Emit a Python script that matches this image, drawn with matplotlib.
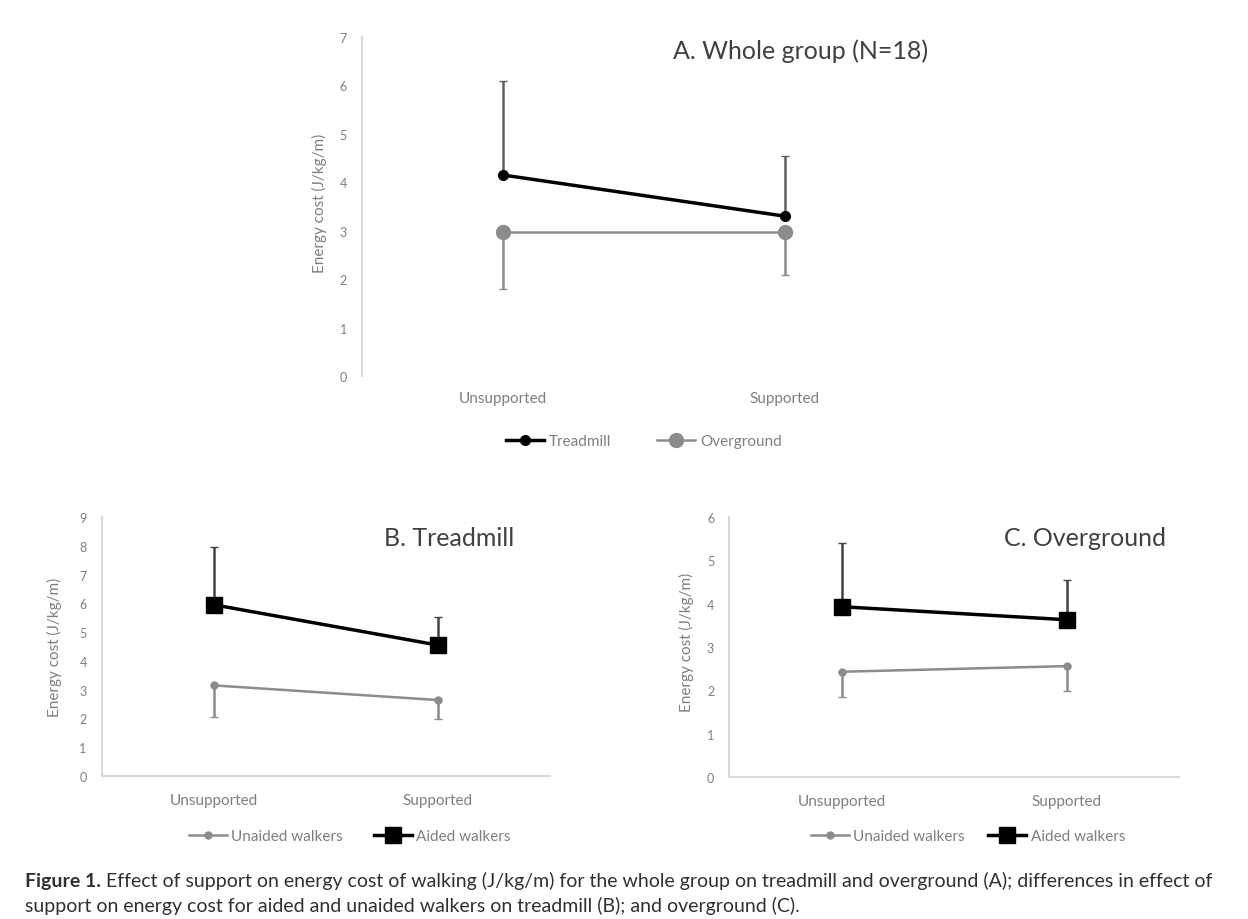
import numpy as np
import matplotlib
matplotlib.use("Agg")
import matplotlib.pyplot as plt

plt.rcParams['font.family'] = ['Lato', 'DejaVu Sans']

categories = ['Unsupported', 'Supported']

# A. whole group
a_treadmill = [4.15, 3.3]
a_treadmill_err = [1.94, 1.25]
a_overground = [2.97, 2.97]
a_overground_err = [1.17, 0.88]

# B. treadmill
b_unaided = [3.15, 2.64]
b_unaided_err = [1.1, 0.66]
b_aided = [5.95, 4.55]
b_aided_err = [2.0, 0.97]

# C. overground
c_unaided = [2.43, 2.56]
c_unaided_err = [0.58, 0.57]
c_aided = [3.93, 3.63]
c_aided_err = [1.47, 0.92]

TXT = '#7f7f7f'
SPINE = '#d9d9d9'
GRAY = '#8c8c8c'

fig = plt.figure(figsize=(12.48, 9.2), dpi=100)
x = np.arange(len(categories))


def series(ax, vals, err, upper, color, lw, marker, ms, ecolor, label, z):
    yerr = [[0, 0], err] if upper else [err, [0, 0]]
    ax.errorbar(x, vals, yerr=yerr, fmt='none', ecolor=ecolor, elinewidth=1.8,
                capsize=3, zorder=z)
    ax.plot(x, vals, color=color, lw=lw, marker=marker, ms=ms, label=label, zorder=z)


def style(ax, ymax, title, tx, ty, ylab_xy, cat_pad):
    ax.set_xlim(-0.5, 1.5)
    ax.set_ylim(0, ymax)
    ax.set_yticks(range(0, ymax + 1))
    ax.set_xticks(x)
    ax.set_xticklabels(categories)
    ax.tick_params(length=0, colors=TXT, labelsize=9)
    ax.tick_params(axis='x', labelsize=11, pad=cat_pad)
    ax.tick_params(axis='y', pad=11)
    for s in ['top', 'right']:
        ax.spines[s].set_visible(False)
    for s in ['left', 'bottom']:
        ax.spines[s].set_color(SPINE)
        ax.spines[s].set_linewidth(1.5)
    ax.set_ylabel('Energy cost (J/kg/m)', color=TXT, fontsize=11)
    ax.yaxis.set_label_coords(*ylab_xy)
    ax.text(tx, ty, title, transform=ax.transAxes, fontsize=18,
            color='#404040', ha='center', va='center')


def legend(ax, handles, labels, y, cx, spacing):
    ax.legend(handles, labels, loc='center', bbox_to_anchor=(cx, y), ncol=2,
              frameon=False, fontsize=11, labelcolor=TXT, handlelength=2.5,
              handletextpad=0.3, columnspacing=spacing)


# ---- A
axA = fig.add_axes([0.2901, 0.5902, 0.4519, 0.3685])
series(axA, a_overground, a_overground_err, False, GRAY, 1.8, 'o', 10, GRAY, 'Overground', 2)
series(axA, a_treadmill, a_treadmill_err, True, 'black', 2.5, 'o', 7, '#606060', 'Treadmill', 3)
style(axA, 7, 'A. Whole group (N=18)', 0.777, 0.96, (-0.062, 0.513), 11)
axA.spines['bottom'].set_visible(False)
h, l = axA.get_legend_handles_labels()
legend(axA, h[::-1], l[::-1], -0.192, 0.5, 3)

# ---- B
axB = fig.add_axes([0.0817, 0.1554, 0.359, 0.2815])
series(axB, b_unaided, b_unaided_err, False, GRAY, 1.8, 'o', 5, GRAY, 'Unaided walkers', 2)
series(axB, b_aided, b_aided_err, True, 'black', 2.5, 's', 12, '#444444', 'Aided walkers', 3)
style(axB, 9, 'B. Treadmill', 0.775, 0.92, (-0.089, 0.5), 12)
h, l = axB.get_legend_handles_labels()
legend(axB, h, l, -0.232, 0.553, 2)

# ---- C
axC = fig.add_axes([0.5845, 0.1543, 0.3606, 0.2826])
series(axC, c_unaided, c_unaided_err, False, GRAY, 1.8, 'o', 5, GRAY, 'Unaided walkers', 2)
series(axC, c_aided, c_aided_err, True, 'black', 2.5, 's', 12, '#444444', 'Aided walkers', 3)
style(axC, 6, 'C. Overground', 0.79, 0.92, (-0.079, 0.52), 12)
h, l = axC.get_legend_handles_labels()
legend(axC, h, l, -0.227, 0.53, 1.5)

# ---- caption
cap_col = '#303030'
cap_size = 14
t1 = fig.text(0.02, 1 - 882 / 920, 'Figure 1.', fontsize=cap_size, fontweight='bold',
              color=cap_col, va='center')
fig.add_artist(plt.Annotation(
    ' Effect of support on energy cost of walking (J/kg/m) for the whole group on '
    'treadmill and overground (A); differences in effect of',
    xy=(1, 0), xycoords=t1, va='bottom', fontsize=cap_size, color=cap_col,
    annotation_clip=False))
fig.text(0.02, 1 - 906 / 920, 'support on energy cost for aided and unaided walkers on '
         'treadmill (B); and overground (C).', fontsize=cap_size, color=cap_col, va='center')

fig.savefig('out.png', dpi=100)
